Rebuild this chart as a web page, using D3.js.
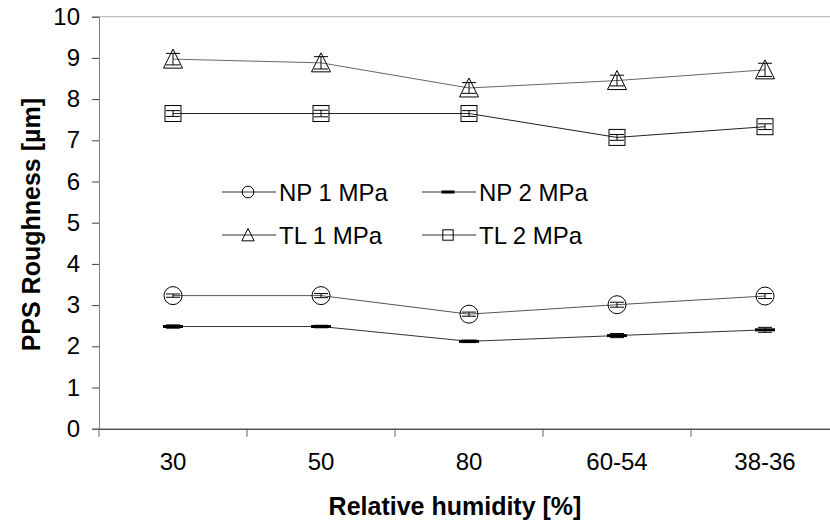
<!DOCTYPE html>
<html><head><meta charset="utf-8">
<script src="https://cdn.jsdelivr.net/npm/d3@7"></script>
<style>body{margin:0;background:#fff}svg{display:block}text{font-family:Arial,"Liberation Sans",sans-serif;fill:#000}</style>
</head><body><svg id="c" width="830" height="525"></svg>
<script>
const categories = ["30","50","80","60-54","38-36"];
const np1 = [3.23, 3.23, 2.78, 3.01, 3.22];
const np2 = [2.48, 2.48, 2.12, 2.26, 2.40];
const tl1 = [8.97, 8.88, 8.27, 8.45, 8.71];
const tl2 = [7.65, 7.65, 7.65, 7.07, 7.33];
const np1Err = [0.04, 0.05, 0.05, 0.06, 0.06];
const np2Err = [0.04, 0.03, 0.03, 0.05, 0.06];
const tl1Err = [0.14, 0.15, 0.13, 0.13, 0.16];
const tl2Err = [0.07, 0.08, 0.07, 0.07, 0.07];
const yTicks = [0,1,2,3,4,5,6,7,8,9,10];
const seriesNames = ["NP 1 MPa","NP 2 MPa","TL 1 MPa","TL 2 MPa"];

const FONT = "Arial, Liberation Sans, sans-serif";
const svg = d3.select("#c");
const M = {left:99, right:839, top:16.7, bottom:428.7};
const x = d3.scaleBand().domain(categories).range([M.left, M.right]);
const y = d3.scaleLinear().domain([0,10]).range([M.bottom, M.top]);

// top border
svg.append("line").attr("x1",M.left).attr("x2",M.right).attr("y1",M.top).attr("y2",M.top)
  .attr("stroke","#b0b0b0").attr("stroke-width",1);

// y axis
const yAxis = svg.append("g").attr("transform",`translate(${M.left},0)`)
  .call(d3.axisLeft(y).tickValues(yTicks).tickSize(7).tickPadding(12).tickFormat(d3.format("d")));
yAxis.select(".domain").attr("stroke","#808080");
yAxis.selectAll(".tick line").attr("stroke","#404040");
yAxis.selectAll(".tick text").attr("font-size",24).attr("fill","#000").attr("font-family",FONT);

// x axis
const xAxis = svg.append("g").attr("transform",`translate(0,${M.bottom})`)
  .call(d3.axisBottom(x).tickSize(0).tickPadding(24));
xAxis.select(".domain").attr("stroke","#000");
xAxis.selectAll(".tick text").attr("font-size",24).attr("fill","#000").attr("font-family",FONT);
// boundary ticks
const bounds = categories.map(c => x(c)).concat([M.right]);
svg.append("g").selectAll("line").data(bounds).join("line")
  .attr("x1",d=>d).attr("x2",d=>d).attr("y1",M.bottom).attr("y2",M.bottom+8)
  .attr("stroke","#606060");

// titles
svg.append("text").attr("transform",`translate(40,${(M.top+M.bottom)/2+2}) rotate(-90)`)
  .attr("text-anchor","middle").attr("font-weight","bold").attr("font-size",25).text("PPS Roughness [µm]");
svg.append("text").attr("x",455).attr("y",515)
  .attr("text-anchor","middle").attr("font-weight","bold").attr("font-size",25).text("Relative humidity [%]");

const cx = c => x(c) + x.bandwidth()/2;
const series = [
  {name:seriesNames[0], vals:np1, err:np1Err, mk:"circle", lc:"#555"},
  {name:seriesNames[1], vals:np2, err:np2Err, mk:"dash", lc:"#333"},
  {name:seriesNames[2], vals:tl1, err:tl1Err, mk:"tri", lc:"#666"},
  {name:seriesNames[3], vals:tl2, err:tl2Err, mk:"sq", lc:"#222"}
];

function marker(g, kind, px, py, s) {
  if (kind==="circle") g.append("circle").attr("cx",px).attr("cy",py).attr("r",9*s).attr("fill","none").attr("stroke","#000").attr("stroke-width",1);
  else if (kind==="dash") g.append("rect").attr("x",px-10*s).attr("y",py-1.5).attr("width",20*s).attr("height",3).attr("fill","#000");
  else if (kind==="tri") g.append("path").attr("d",`M${px},${py-10*s}L${px+9.5*s},${py+9*s}L${px-9.5*s},${py+9*s}Z`).attr("fill","none").attr("stroke","#000").attr("stroke-width",1);
  else if (kind==="sq") g.append("rect").attr("x",px-8*s).attr("y",py-8*s).attr("width",16*s).attr("height",16*s).attr("fill","none").attr("stroke","#000").attr("stroke-width",1);
}

const line = d3.line().x((d,i)=>cx(categories[i])).y(d=>y(d));
series.forEach(s => {
  const g = svg.append("g");
  g.append("path").attr("d",line(s.vals)).attr("fill","none").attr("stroke",s.lc).attr("stroke-width",1);
  s.vals.forEach((v,i) => {
    const px = cx(categories[i]);
    const e = s.err[i];
    g.append("line").attr("x1",px).attr("x2",px).attr("y1",y(v+e)).attr("y2",y(v-e)).attr("stroke","#000");
    [v+e, v-e].forEach(t => g.append("line").attr("x1",px-7).attr("x2",px+7).attr("y1",y(t)).attr("y2",y(t)).attr("stroke","#000"));
    marker(g, s.mk, px, y(v), 1);
  });
});

// legend
const legPos = [[222,192],[422,192],[222,235],[422,235]];
series.forEach((s,i) => {
  const [lx,ly] = legPos[i];
  const g = svg.append("g");
  g.append("line").attr("x1",lx).attr("x2",lx+54).attr("y1",ly).attr("y2",ly).attr("stroke","#333").attr("stroke-width",1);
  marker(g, s.mk, lx+26, ly, 0.65);
  g.append("text").attr("x",lx+57).attr("y",ly+8.5).attr("font-size",24).attr("font-family",FONT).text(s.name);
});
</script></body></html>
